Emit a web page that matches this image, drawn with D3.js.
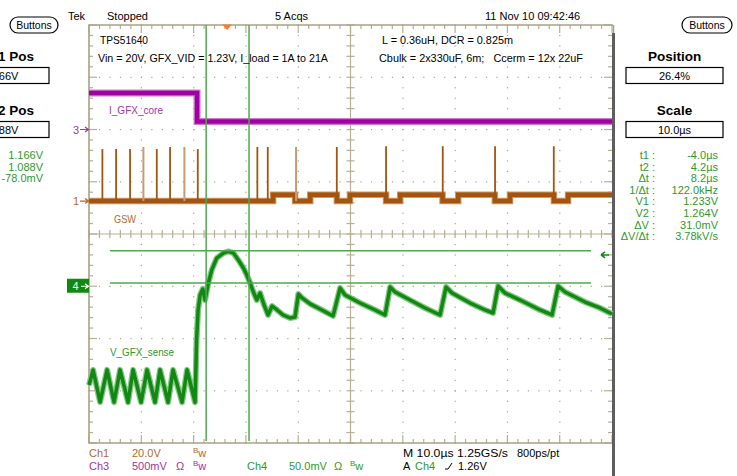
<!DOCTYPE html>
<html><head><meta charset="utf-8">
<script src="https://cdn.jsdelivr.net/npm/d3@7"></script>
<style>
html,body{margin:0;padding:0;background:#fff;overflow:hidden}
svg{display:block;font-family:"Liberation Sans",Arial,sans-serif}
</style></head><body>
<svg id="c" width="737" height="476"></svg>
<script>
// ---------------- data ----------------
const timeDomain = [-26.4, 73.6];            // µs, 10 µs/div, trigger at 26.4 %
const ch3Time = [-26.4, -5.74, -5.74, 73.6];  // I_GFX_core
const ch3mV   = [349, 349, 77, 77];
const gswBaseTime = [-26.4, 8.8, 8.8, 13.0, 13.0, 15.9, 15.9, 21.0, 21.0, 23.5, 23.5, 30.4, 30.4, 33.1, 33.1, 41.2, 41.2, 44.2, 44.2, 51.2, 51.2, 54.1, 54.1, 62.5, 62.5, 65.2, 65.2, 73.6];
const gswBaseV    = [0, 0, 2.4, 2.4, 0, 0, 2.4, 2.4, 0, 0, 2.4, 2.4, 0, 0, 2.4, 2.4, 0, 0, 2.4, 2.4, 0, 0, 2.4, 2.4, 0, 0, 2.4, 2.4];
const gswPulseTime = [-23.84, -21.22, -18.55, -16.0, -13.44, -10.9, -8.16, -5.6, 5.79, 7.78, 13.19, 20.98, 30.4, 41.24, 51.24, 62.47];
const gswPulseV    = [19.9, 19.9, 19.9, 20.7, 19.9, 20.7, 20.7, 19.9, 20.7, 20.7, 20.7, 20.7, 21.0, 21.0, 21.0, 21.0];
const gswPulseFaint = [0, 0, 0, 1, 0, 0, 1, 0, 0, 0, 1, 0, 0, 0, 0, 0];
const ch4Time = [-26.39, -25.62, -24.28, -22.94, -21.61, -20.46, -18.93, -17.97, -16.44, -15.30, -13.77, -12.81, -11.28, -10.33, -8.60, -7.65, -6.12,
  -5.83, -5.54, -5.16, -4.65, -4.21, -3.58, -2.93, -1.97, -0.71, 0.25, 1.20, 2.16, 3.12, 3.77, 4.40, 5.03, 5.68, 6.31, 7.07, 7.84, 8.60, 9.56, 10.71, 12.05, 13.00,
  13.63, 14.34, 15.87, 17.40, 20.27, 21.61, 22.56, 25.43, 28.30, 30.21, 31.17, 32.12, 34.99, 37.86, 40.73, 41.87, 43.02, 46.46, 49.33, 50.86,
  51.82, 53.15, 56.02, 59.85, 62.14, 63.29, 64.63, 68.45, 71.32, 73.61];
const ch4V = [1.1355, 1.1499, 1.1192, 1.150, 1.119, 1.150, 1.119, 1.150, 1.119, 1.150, 1.119, 1.150, 1.119, 1.150, 1.119, 1.150, 1.119,
  1.1786, 1.2073, 1.2216, 1.2274, 1.2168, 1.2331, 1.2456, 1.2570, 1.2618, 1.2633, 1.2618, 1.2551, 1.2475, 1.2408, 1.2331, 1.2245, 1.2168, 1.2235, 1.2121, 1.2025, 1.2111, 1.2073, 1.2025, 1.1996, 1.2006,
  1.2226, 1.2188, 1.2131, 1.2092, 1.2016, 1.2283, 1.2216, 1.2140, 1.2073, 1.2025, 1.2293, 1.2245, 1.2168, 1.2092, 1.2025, 1.2293, 1.2235, 1.2140, 1.2073, 1.2044,
  1.2302, 1.2235, 1.2168, 1.2073, 1.2025, 1.2302, 1.2245, 1.2149, 1.2092, 1.2035];
const cursorTimes = [-4.0, 4.2];
const cursorVolts = [1.233, 1.264];
const triggerLevel = 1.26;
const readoutLabels = ["t1", "t2", "Δt", "1/Δt", "V1", "V2", "ΔV", "ΔV/Δt"];
const readoutValues = ["-4.0µs", "4.2µs", "8.2µs", "122.0kHz", "1.233V", "1.264V", "31.0mV", "3.78kV/s"];
const leftReadouts = ["1.166V", "1.088V", "-78.0mV"];

// ---------------- setup ----------------
const svg = d3.select("#c");
const L = 89, R = 612, T = 25, B = 443;
const xDiv = d3.scaleLinear([0, 10], [L, R]);
const yDiv = d3.scaleLinear([-4, 4], [B, T]);
const x = d3.scaleLinear(timeDomain, [L, R]);
const ch1 = {pos: 0.63, perDiv: 20};
const ch3 = {pos: 2.0, perDiv: 500};
const ch4 = {pos: -1.0, perDiv: 0.05, offset: 1.23};
const y1 = v => yDiv(ch1.pos + v / ch1.perDiv);
const y3 = v => yDiv(ch3.pos + v / ch3.perDiv);
const y4 = v => yDiv(ch4.pos + (v - ch4.offset) / ch4.perDiv);

const GRID = "#b7af96", DOT = "#aaa38c";
const PURPLE = "#a000a0", BROWN = "#a4540e", GREEN = "#118811", CUR = "#4daa4d";
const TXT_BROWN = "#ad6a30", TXT_PURPLE = "#a434a4", TXT_GREEN = "#2f992f";

function fit(sel, w) {
  sel.each(function () {
    const l = this.getComputedTextLength();
    if (Math.abs(l - w) > 1.5) d3.select(this).attr("textLength", w).attr("lengthAdjust", "spacingAndGlyphs");
  });
  return sel;
}
function text(t, x0, y0, opt = {}) {
  const s = svg.append("text").attr("x", x0).attr("y", y0).text(t)
    .attr("font-size", opt.size || 11).attr("fill", opt.color || "#000")
    .attr("text-anchor", opt.anchor || "start").style("white-space", "pre");
  if (opt.bold) s.attr("font-weight", "bold");
  if (opt.w) fit(s, opt.w);
  return s;
}

// ---------------- graticule ----------------
const g = svg.append("g");
const minorX = d3.range(0, 10.001, 0.2), minorY = d3.range(-4, 4.001, 0.2);
// dots along major lines
for (let k = 1; k < 10; k++) {
  if (k === 5) continue;
  minorY.forEach(d => g.append("rect").attr("x", xDiv(k) - 0.5).attr("y", yDiv(d) - 0.5).attr("width", 1.2).attr("height", 1.2).attr("fill", DOT));
}
for (let j = -3; j <= 3; j++) {
  if (j === 0) continue;
  minorX.forEach(d => g.append("rect").attr("x", xDiv(d) - 0.5).attr("y", yDiv(j) - 0.5).attr("width", 1.2).attr("height", 1.2).attr("fill", DOT));
}
// center lines
g.append("line").attr("x1", xDiv(5)).attr("x2", xDiv(5)).attr("y1", T).attr("y2", B).attr("stroke", GRID).attr("stroke-width", 1.2);
g.append("line").attr("x1", L).attr("x2", R).attr("y1", yDiv(0)).attr("y2", yDiv(0)).attr("stroke", GRID).attr("stroke-width", 1.2);
// ticks
minorX.forEach(d => {
  const major = Math.abs(d - Math.round(d)) < 1e-6;
  const len = major ? 8 : 4;
  const xx = xDiv(d);
  g.append("line").attr("x1", xx).attr("x2", xx).attr("y1", T).attr("y2", T + len).attr("stroke", GRID).attr("stroke-width", 1.2);
  g.append("line").attr("x1", xx).attr("x2", xx).attr("y1", B).attr("y2", B - len).attr("stroke", GRID).attr("stroke-width", 1.2);
  g.append("line").attr("x1", xx).attr("x2", xx).attr("y1", yDiv(0) - 4).attr("y2", yDiv(0) + 4).attr("stroke", GRID).attr("stroke-width", 1.2);
});
minorY.forEach(d => {
  const major = Math.abs(d - Math.round(d)) < 1e-6;
  const len = major ? 8 : 4;
  const yy = yDiv(d);
  g.append("line").attr("x1", L).attr("x2", L + len).attr("y1", yy).attr("y2", yy).attr("stroke", GRID).attr("stroke-width", 1.2);
  g.append("line").attr("x1", R).attr("x2", R - len).attr("y1", yy).attr("y2", yy).attr("stroke", GRID).attr("stroke-width", 1.2);
  g.append("line").attr("x1", xDiv(5) - 4).attr("x2", xDiv(5) + 4).attr("y1", yy).attr("y2", yy).attr("stroke", GRID).attr("stroke-width", 1.2);
});
// border
g.append("path").attr("d", `M${R + 1},${T}H${L}V${B}H${R + 1}`).attr("fill", "none").attr("stroke", "#a9a186").attr("stroke-width", 1.6);
g.append("line").attr("x1", R + 1.5).attr("x2", R + 1.5).attr("y1", T).attr("y2", 33).attr("stroke", "#a9a186").attr("stroke-width", 1.5);
g.append("line").attr("x1", R + 1.5).attr("x2", R + 1.5).attr("y1", 33).attr("y2", 476).attr("stroke", "#5e5e5e").attr("stroke-width", 3);

// ---------------- traces ----------------
const line = d3.line();
// Ch3 I_GFX_core
const p3 = ch3Time.map((t, i) => [x(t), y3(ch3mV[i])]);
svg.append("path").attr("d", line(p3)).attr("fill", "none").attr("stroke", "#d07ad0").attr("stroke-width", 7);
svg.append("path").attr("d", line(p3)).attr("fill", "none").attr("stroke", PURPLE).attr("stroke-width", 4.5);
// Ch1 GSW
const p1 = gswBaseTime.map((t, i) => [x(t), y1(gswBaseV[i])]);
svg.append("path").attr("d", line(p1)).attr("fill", "none").attr("stroke", "#cf9a6a").attr("stroke-width", 6.5);
svg.append("path").attr("d", line(p1)).attr("fill", "none").attr("stroke", BROWN).attr("stroke-width", 4.5);
gswPulseTime.forEach((t, i) => {
  svg.append("line").attr("x1", x(t)).attr("x2", x(t)).attr("y1", y1(0)).attr("y2", y1(gswPulseV[i]))
    .attr("stroke", gswPulseFaint[i] ? "#c99a70" : BROWN).attr("stroke-width", gswPulseFaint[i] ? 2 : 1.8);
});
// Ch4 V_GFX_sense
const p4 = ch4Time.map((t, i) => [x(t), y4(ch4V[i])]);
svg.append("path").attr("d", line(p4)).attr("fill", "none").attr("stroke", "#86c886").attr("stroke-width", 6).attr("stroke-linejoin", "round");
svg.append("path").attr("d", line(p4)).attr("fill", "none").attr("stroke", GREEN).attr("stroke-width", 3.5).attr("stroke-linejoin", "round");

// ---------------- cursors ----------------
cursorTimes.forEach(t => svg.append("line").attr("x1", x(t)).attr("x2", x(t)).attr("y1", T).attr("y2", B - 2)
  .attr("stroke", CUR).attr("stroke-width", 1.5));
cursorVolts.forEach(v => svg.append("line").attr("x1", xDiv(0.4)).attr("x2", xDiv(9.6)).attr("y1", y4(v)).attr("y2", y4(v))
  .attr("stroke", CUR).attr("stroke-width", 1.5));

// trigger markers
svg.append("path").attr("d", `M${x(0) - 5},${T - 0.5}L${x(0) + 5},${T - 0.5}L${x(0)},${T + 5}Z`).attr("fill", "#ff7a2a");
const yt = y4(triggerLevel);
svg.append("path").attr("d", `M${R - 3},${yt}H${R - 11}M${R - 11},${yt}l4,-3M${R - 11},${yt}l4,3`).attr("stroke", GREEN).attr("stroke-width", 1.5).attr("fill", "none");

// channel ground markers
function marker(lbl, yy, color) {
  text(lbl, 73, yy + 4, {color, size: 11});
  svg.append("path").attr("d", `M80,${yy}H88M85,${yy - 2.5}L88.5,${yy}L85,${yy + 2.5}`).attr("stroke", color).attr("stroke-width", 1.2).attr("fill", "none");
}
marker("3", yDiv(ch3.pos), TXT_PURPLE);
marker("1", yDiv(ch1.pos), TXT_BROWN);
const y4m = yDiv(ch4.pos);
svg.append("rect").attr("x", 67).attr("y", y4m - 7.5).attr("width", 22).attr("height", 14).attr("fill", GREEN);
text("4", 72.5, y4m + 4, {color: "#fff", size: 11});
svg.append("path").attr("d", `M81,${y4m}H88M85,${y4m - 2.5}L88.5,${y4m}L85,${y4m + 2.5}`).attr("stroke", "#fff").attr("stroke-width", 1.2).attr("fill", "none");

// ---------------- texts in graticule ----------------
text("TPS51640", 100, 44, {w: 48});
text("Vin = 20V, GFX_VID = 1.23V, I_load = 1A to 21A", 98, 62, {w: 230});
text("L = 0.36uH, DCR = 0.825m", 382, 44, {w: 131});
text("Cbulk = 2x330uF, 6m;   Ccerm = 12x 22uF", 379, 62, {w: 204});
text("I_GFX_core", 109, 114, {color: TXT_PURPLE, w: 54});
text("GSW", 114, 223, {color: TXT_BROWN, w: 22});
text("V_GFX_sense", 110, 356, {color: TXT_GREEN, w: 64});

// ---------------- header ----------------
text("Tek", 68, 20);
text("Stopped", 107, 20, {w: 40});
text("5 Acqs", 275, 20, {w: 32});
text("11 Nov 10 09:42:46", 485, 20, {w: 96});
function button(x0, w) {
  svg.append("rect").attr("x", x0).attr("y", 17).attr("width", w).attr("height", 16).attr("rx", 8).attr("fill", "#fff").attr("stroke", "#000").attr("stroke-width", 1.2);
  text("Buttons", x0 + w / 2, 29, {anchor: "middle", size: 10.5});
}
button(10, 48);
button(682, 50);

// ---------------- side panels ----------------
function panel(title, value, cx, ty, boxX, titleAnchor, titleX, valX, valAnchor) {
  text(title, titleX, ty, {bold: true, size: 13.5, anchor: titleAnchor});
  svg.append("rect").attr("x", boxX).attr("y", ty + 6.5).attr("width", 97).attr("height", 16).attr("fill", "#fff").attr("stroke", "#000").attr("stroke-width", 1.2);
  text(value, valX, ty + 19, {anchor: valAnchor, size: 11});
}
panel("Position", "26.4%", 674.5, 61, 626, "middle", 674.5, 674.5, "middle");
panel("Scale", "10.0µs", 674.5, 115, 626, "middle", 674.5, 674.5, "middle");
panel("Cursor1 Pos", leftReadouts[0], 0, 61, -48, "end", 34, 1, "middle");
panel("Cursor2 Pos", leftReadouts[1], 0, 115, -48, "end", 34, 1, "middle");

leftReadouts.forEach((v, i) => text(v, 43, 159 + i * 11.6, {anchor: "end", color: TXT_GREEN}));
readoutLabels.forEach((l, i) => {
  text(l + " :", 655, 159 + i * 11.6, {anchor: "end", color: TXT_GREEN});
  text(readoutValues[i], 718, 159 + i * 11.6, {anchor: "end", color: TXT_GREEN});
});

// ---------------- footer ----------------
function bw(x0, y0, color) {
  const t = svg.append("text").attr("x", x0).attr("y", y0).attr("fill", color).attr("font-size", 11);
  t.append("tspan").text("B").attr("font-size", 8).attr("dy", -4);
  t.append("tspan").text("w").attr("dy", 4);
}
text("Ch1", 89, 457, {color: TXT_BROWN});
text("20.0V", 132, 457, {color: TXT_BROWN});
bw(193, 457, TXT_BROWN);
text("Ch3", 89, 470, {color: TXT_PURPLE});
text("500mV", 132, 470, {color: TXT_PURPLE});
text("Ω", 176, 470, {color: TXT_PURPLE});
bw(193, 470, TXT_PURPLE);
text("Ch4", 247, 470, {color: TXT_GREEN});
text("50.0mV", 289, 470, {color: TXT_GREEN});
text("Ω", 334, 470, {color: TXT_GREEN});
bw(350, 470, TXT_GREEN);
text("M 10.0µs 1.25GS/s", 403, 457, {w: 105});
text("800ps/pt", 517, 457, {w: 43});
text("A", 403, 470);
text("Ch4", 415, 470, {color: TXT_GREEN});
svg.append("path").attr("d", "M445,469H448L452,463").attr("stroke", "#000").attr("stroke-width", 1).attr("fill", "none");
text("1.26V", 458, 470);
</script>
</body></html>
